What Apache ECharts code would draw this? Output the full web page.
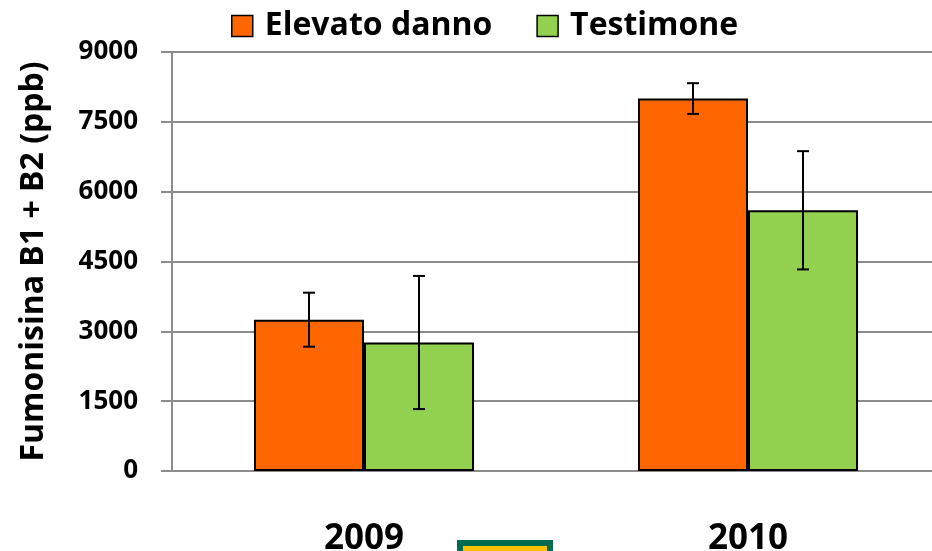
<!DOCTYPE html>
<html>
<head>
<meta charset="utf-8">
<script src="https://cdn.jsdelivr.net/npm/echarts@6/dist/echarts.min.js"></script>
<style>
  html, body { margin: 0; padding: 0; background: #fff; }
  #chart { width: 932px; height: 551px; }
</style>
</head>
<body>
<div id="chart"></div>
<script>
// dati
var categories = ['2009', '2010']
var elevatoDanno = [3250, 8000]
var testimone = [2760, 5600]
var elevatoErr = [580, 330]
var testimoneErr = [1430, 1270]
var yTicks = [0, 1500, 3000, 4500, 6000, 7500, 9000]

var barGapPct = 42.7 // barCategoryGap in %

// barre di errore: side -1 = prima serie, +1 = seconda serie
function errorSeries(name, values, errs, side) {
  return {
    name: name + ' err',
    type: 'custom',
    z: 10,
    data: values.map(function (v, i) { return [i, v - errs[i], v + errs[i]] }),
    renderItem: function (params, api) {
      var lo = api.coord([api.value(0), api.value(1)])
      var hi = api.coord([api.value(0), api.value(2)])
      var band = api.size([1, 0])[0]
      var bw = band * (1 - barGapPct / 100) / 2
      var x = lo[0] + side * bw / 2
      var cap = 6
      var style = { stroke: '#000', lineWidth: 2 }
      return {
        type: 'group',
        children: [
          { type: 'line', shape: { x1: x, y1: lo[1], x2: x, y2: hi[1] }, style: style },
          { type: 'line', shape: { x1: x - cap, y1: lo[1], x2: x + cap, y2: lo[1] }, style: style },
          { type: 'line', shape: { x1: x - cap, y1: hi[1], x2: x + cap, y2: hi[1] }, style: style }
        ]
      }
    }
  }
}

var chart = echarts.init(document.getElementById('chart'))
var option = {
  animation: false,
  textStyle: { fontFamily: 'Open Sans', fontWeight: 'bold', color: '#000' },
  legend: {
    data: ['Elevato danno', 'Testimone'],
    icon: 'rect',
    left: 231,
    top: 10,
    padding: 0,
    itemWidth: 21,
    itemHeight: 21,
    itemGap: 44,
    itemStyle: { borderColor: '#000', borderWidth: 1.5 },
    textStyle: {
      fontFamily: 'Open Sans',
      fontWeight: 'bold',
      fontSize: 32,
      color: '#000',
      padding: [0, 0, 0, 7]
    }
  },
  grid: { left: 172, width: 768, top: 52, bottom: 80, outerBoundsMode: 'none' },
  xAxis: {
    type: 'category',
    data: categories,
    axisLine: { lineStyle: { color: '#8c8c8c', width: 2 } },
    axisTick: { length: 12, lineStyle: { color: '#8c8c8c', width: 2 } },
    axisLabel: { fontSize: 35, fontWeight: 'bold', color: '#000', margin: 51 }
  },
  yAxis: {
    type: 'value',
    min: yTicks[0],
    max: yTicks[yTicks.length - 1],
    interval: 1500,
    name: 'Fumonisina B1 + B2 (ppb)',
    nameLocation: 'middle',
    nameGap: 122,
    nameTextStyle: { fontSize: 32, fontWeight: 'bold', color: '#000' },
    axisLine: { show: true, lineStyle: { color: '#8c8c8c', width: 2 } },
    axisTick: { show: true, length: 11, lineStyle: { color: '#8c8c8c', width: 2 } },
    axisLabel: {
      fontSize: 26,
      fontWeight: 'bold',
      color: '#000',
      margin: 34,
      formatter: function (v) { return String(v) }
    },
    splitLine: { lineStyle: { color: '#8c8c8c', width: 2 } }
  },
  series: [
    {
      name: 'Elevato danno',
      type: 'bar',
      barGap: '0%',
      barCategoryGap: barGapPct + '%',
      itemStyle: { color: '#ff6600', borderColor: '#000', borderWidth: 2 },
      data: elevatoDanno
    },
    {
      name: 'Testimone',
      type: 'bar',
      itemStyle: { color: '#92d050', borderColor: '#000', borderWidth: 2 },
      data: testimone
    },
    errorSeries('Elevato danno', elevatoDanno, elevatoErr, -1),
    errorSeries('Testimone', testimone, testimoneErr, 1)
  ],
  graphic: [
    {
      type: 'rect',
      left: 457,
      top: 540,
      shape: { width: 90, height: 20 },
      style: { fill: '#ffc000', stroke: '#006b50', lineWidth: 6 }
    }
  ]
}
chart.setOption(option)
</script>
</body>
</html>
